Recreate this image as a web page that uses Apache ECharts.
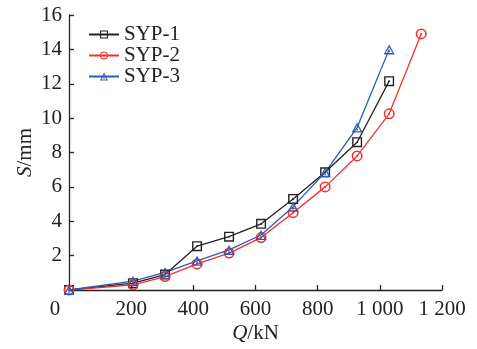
<!DOCTYPE html>
<html>
<head>
<meta charset="utf-8">
<script src="https://cdn.jsdelivr.net/npm/echarts@6/dist/echarts.min.js"></script>
<style>
html,body{margin:0;padding:0;background:#fff;}
#c{width:477px;height:349px;}
</style>
</head>
<body>
<div id="c"></div>
<script>
const seriesNames = ['SYP-1', 'SYP-2', 'SYP-3'];
const q1 = [0, 206, 309, 412, 515, 618, 721, 824, 927, 1030];
const s1 = [0, 0.4, 0.9, 2.55, 3.1, 3.85, 5.3, 6.85, 8.6, 12.15];
const q2 = [0, 206, 309, 412, 515, 618, 721, 824, 927, 1030, 1133];
const s2 = [0, 0.3, 0.78, 1.52, 2.15, 3.05, 4.5, 6.0, 7.8, 10.25, 14.9];
const q3 = [0, 206, 309, 412, 515, 618, 721, 824, 927, 1030];
const s3 = [0, 0.52, 1.03, 1.7, 2.33, 3.2, 4.85, 6.85, 9.45, 14.0];
const xTicks = [0, 200, 400, 600, 800, 1000, 1200];
const yTicks = [0, 2, 4, 6, 8, 10, 12, 14, 16];

const colors = ['#222222', '#f03030', '#2b5bb0'];
const symSquare = 'path://M0,0H10V10H0Z M1.4,1.4V8.6H8.6V1.4Z M4.2,4.2H5.8V5.8H4.2Z';
const symCircle = 'path://M5,0A5,5 0 1,1 5,10A5,5 0 1,1 5,0Z M5,1.4A3.6,3.6 0 1,0 5,8.6A3.6,3.6 0 1,0 5,1.4Z M4.2,4.2H5.8V5.8H4.2Z';
const symTri = 'path://M5,0L10,9L0,9Z M5,2.5L1.9,7.8L8.1,7.8Z M4.3,5.6H5.7V7H4.3Z';

function pairs(q, s) { return q.map((v, i) => [v, s[i]]); }
const font = 'Liberation Serif';

const chart = echarts.init(document.getElementById('c'), null, {renderer: 'canvas'});
function mk(name, q, s, color, sym, size) {
  return {
    name: name, type: 'line', data: pairs(q, s),
    symbol: sym, symbolSize: size, showSymbol: true,
    lineStyle: {color: color, width: 1.3},
    itemStyle: {color: color, borderWidth: 0},
    emphasis: {disabled: true}
  };
}
chart.setOption({
  backgroundColor: '#fff',
  animation: false,
  textStyle: {fontFamily: font},
  grid: {left: 69, right: 35, top: 15, bottom: 59, containLabel: false},
  legend: {
    data: seriesNames, orient: 'vertical', left: 83, top: 19,
    itemWidth: 30, itemHeight: 10, itemGap: 0,
    textStyle: {fontFamily: font, fontSize: 21, color: '#222', lineHeight: 20}
  },
  xAxis: {
    type: 'value', min: xTicks[0], max: xTicks[xTicks.length - 1], interval: 200,
    name: '{i|Q}/kN', nameLocation: 'middle', nameGap: 33, nameMoveOverlap: false,
    nameTextStyle: {fontFamily: font, fontSize: 21, color: '#222',
      rich: {i: {fontStyle: 'italic', fontFamily: font, fontSize: 21, color: '#222'}}},
    axisLine: {lineStyle: {color: '#222', width: 1.3}},
    axisTick: {inside: true, length: 5, lineStyle: {color: '#222', width: 1.3}},
    axisLabel: {fontFamily: font, fontSize: 21, color: '#222', margin: 9,
      formatter: function (v) {
        if (v === 0) return '{o|0}';
        return v >= 1000 ? Math.floor(v / 1000) + ' ' + String(v % 1000).padStart(3, '0') : String(v);
      },
      rich: {o: {fontFamily: font, fontSize: 21, color: '#222', padding: [0, 28, 0, 0]}}},
    splitLine: {show: false}
  },
  yAxis: {
    type: 'value', min: yTicks[0], max: yTicks[yTicks.length - 1], interval: 2,
    name: '{i|S}/mm', nameLocation: 'middle', nameGap: 33, nameRotate: 90, nameMoveOverlap: false,
    nameTextStyle: {fontFamily: font, fontSize: 21, color: '#222',
      rich: {i: {fontStyle: 'italic', fontFamily: font, fontSize: 21, color: '#222'}}},
    axisLine: {show: true, lineStyle: {color: '#222', width: 1.3}},
    axisTick: {show: true, inside: true, length: 5, lineStyle: {color: '#222', width: 1.3}},
    axisLabel: {fontFamily: font, fontSize: 21, color: '#222', margin: 7,
      formatter: function (v) { return v === 0 ? '' : String(v); }},
    splitLine: {show: false}
  },
  series: [
    mk(seriesNames[0], q1, s1, colors[0], symSquare, 10),
    mk(seriesNames[1], q2, s2, colors[1], symCircle, 11),
    mk(seriesNames[2], q3, s3, colors[2], symTri, [11, 10])
  ]
});
</script>
</body>
</html>
